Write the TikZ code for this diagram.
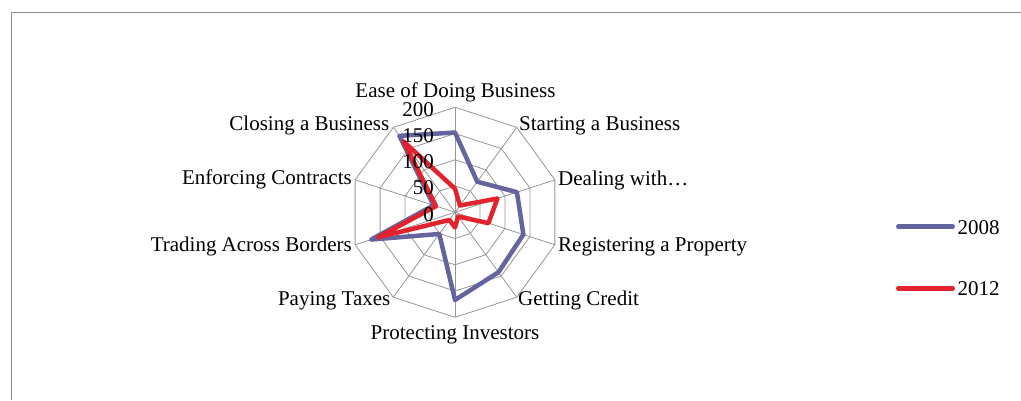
\documentclass[tikz,border=0pt]{standalone}
\usepackage{fontspec}
\setmainfont{Liberation Serif}
\definecolor{sPurple}{RGB}{100,100,158}
\definecolor{sRed}{RGB}{226,35,45}
\definecolor{gridgray}{RGB}{150,150,150}
\definecolor{framegray}{RGB}{140,140,140}
\begin{document}
\begin{tikzpicture}[x=1pt,y=1pt,
  lbl/.style={inner sep=0pt, font=\fontsize{21}{25}\selectfont},
  gridline/.style={draw=gridgray, line width=0.8pt},
  s08/.style={draw=sPurple, line width=4.5pt, line join=round},
  s12/.style={draw=sRed, line width=4.5pt, line join=round},
  leg/.style={line width=4.5pt, line cap=round}]
\useasboundingbox (0,0) rectangle (1021,400);
\draw[framegray, line width=1pt] (11,0) -- (11,387) -- (1021,387);
\begin{scope}[shift={(455,187.7)}]
  \coordinate (c) at (0,0);
  \foreach \r in {1,...,4}{
    \pgfmathsetmacro{\rr}{\r*26.25}
    \draw[gridline] (90:\rr) -- (54:\rr) -- (18:\rr) -- (-18:\rr) -- (-54:\rr)
      -- (-90:\rr) -- (-126:\rr) -- (-162:\rr) -- (162:\rr) -- (126:\rr) -- cycle;
  }
  \foreach \k in {0,...,9}{
    \coordinate (v\k) at ({90-36*\k}:105);
    \draw[gridline] (c) -- (v\k);
  }
  % 2008
  \draw[s08] (90:{152*0.525}) -- (54:{72*0.525}) -- (18:{124*0.525}) -- (-18:{137*0.525})
    -- (-54:{141*0.525}) -- (-90:{167*0.525}) -- (-126:{51*0.525}) -- (-162:{168*0.525})
    -- (162:{43*0.525}) -- (126:{180*0.525}) -- cycle;
  % 2012
  \draw[s12] (90:{45*0.525}) -- (54:{16*0.525}) -- (18:{85*0.525}) -- (-18:{67*0.525})
    -- (-54:{10*0.525}) -- (-90:{29*0.525}) -- (-126:{18*0.525}) -- (-162:{154*0.525})
    -- (162:{38*0.525}) -- (126:{167*0.525}) -- cycle;
\end{scope}
% axis value labels
\node[lbl, anchor=east] (t0) at (434,185.7) {0};
\node[lbl, anchor=east] (t50) at (434,211.95) {50};
\node[lbl, anchor=east] (t100) at (434,238.2) {100};
\node[lbl, anchor=east] (t150) at (434,264.45) {150};
\node[lbl, anchor=east] (t200) at (434,290.7) {200};
% category labels
\node[lbl, anchor=base] (ease) at (455.5,302.7) {Ease of Doing Business};
\node[lbl, anchor=base west] (start) at (519,269.3) {Starting a Business};
\node[lbl, anchor=base west] (deal) at (558,215) {Dealing with…};
\node[lbl, anchor=base west] (reg) at (558,148.3) {Registering a Property};
\node[lbl, anchor=base west] (cred) at (518,95) {Getting Credit};
\node[lbl, anchor=base] (prot) at (455,60.7) {Protecting Investors};
\node[lbl, anchor=base east] (tax) at (390.5,95) {Paying Taxes};
\node[lbl, anchor=base east] (trade) at (352,148.3) {Trading Across Borders};
\node[lbl, anchor=base east] (enf) at (352,216) {Enforcing Contracts};
\node[lbl, anchor=base east] (close) at (389.5,269.3) {Closing a Business};
% legend
\coordinate (l1a) at (898.3,173.3);
\coordinate (l1b) at (952.7,173.3);
\draw[leg, sPurple] (l1a) -- (l1b);
\node[lbl, anchor=base west] (y08) at (957.3,165.7) {2008};
\coordinate (l2a) at (898.3,111.7);
\coordinate (l2b) at (952.7,111.7);
\draw[leg, sRed] (l2a) -- (l2b);
\node[lbl, anchor=base west] (y12) at (957.3,104.3) {2012};
\end{tikzpicture}
\end{document}
